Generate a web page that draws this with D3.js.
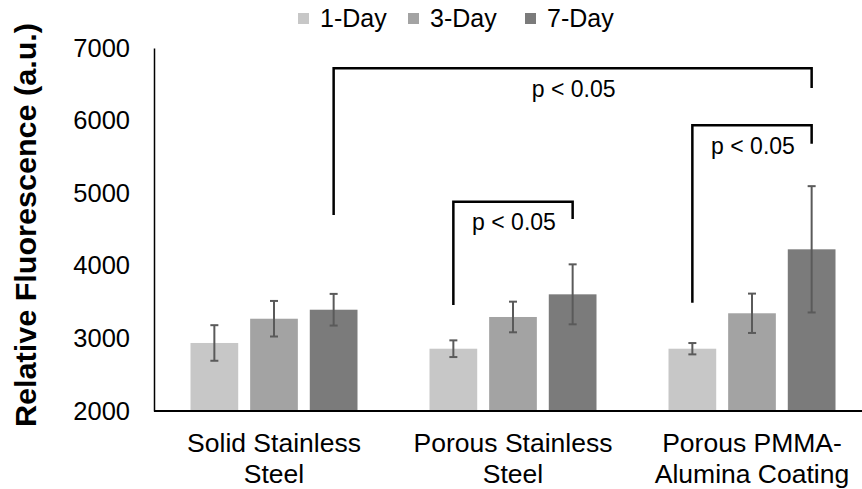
<!DOCTYPE html>
<html>
<head>
<meta charset="utf-8">
<script src="https://cdn.jsdelivr.net/npm/d3@7"></script>
<style>
  html, body { margin: 0; padding: 0; background: #fff; }
  svg { display: block; }
  text { font-family: "Liberation Sans", Arial, sans-serif; fill: #000; }
</style>
</head>
<body>
<script>
// ---- data ----
const categories = ["Solid Stainless Steel", "Porous Stainless Steel", "Porous PMMA-Alumina Coating"];
const categoryLines = [["Solid Stainless", "Steel"], ["Porous Stainless", "Steel"], ["Porous PMMA-", "Alumina Coating"]];
const series = ["1-Day", "3-Day", "7-Day"];
const values1Day = [2937, 2858, 2858];
const values3Day = [3271, 3295, 3346];
const values7Day = [3395, 3607, 4227];
const errors1Day = [245, 115, 78];
const errors3Day = [245, 211, 271];
const errors7Day = [218, 413, 870];
const yTicks = [2000, 3000, 4000, 5000, 6000, 7000];
const colors = ["#c7c7c7", "#a3a3a3", "#7b7b7b"];
// significance brackets: [category, series] endpoints, top level and leg ends (in data units)
const brackets = [
  { from: [0, 2], to: [2, 2], top: 6720, leftEnd: 4700, rightEnd: 6450, label: "p < 0.05" },
  { from: [1, 0], to: [1, 2], top: 4883, leftEnd: 3460, rightEnd: 4645, label: "p < 0.05" },
  { from: [2, 0], to: [2, 2], top: 5935, leftEnd: 3490, rightEnd: 5680, label: "p < 0.05" }
];

const W = 862, H = 489;
const svg = d3.select("body").append("svg").attr("width", W).attr("height", H);

const x0 = d3.scaleBand().domain(categories).range([154.5, 871.5]).padding(0);
const x1 = d3.scaleBand().domain(series).range([36, 203]).paddingInner(0.2).paddingOuter(0);
const y = d3.scaleLinear().domain([2000, 7000]).range([411, 48]);

const valuesBySeries = [values1Day, values3Day, values7Day];
const errorsBySeries = [errors1Day, errors3Day, errors7Day];
const rows = [];
categories.forEach((c, ci) => series.forEach((s, si) => {
  rows.push({ c, s, ci, si, v: valuesBySeries[si][ci], e: errorsBySeries[si][ci] });
}));

const cx = (ci, si) => x0(categories[ci]) + x1(series[si]) + x1.bandwidth() / 2;

// bars
svg.append("g").selectAll("rect").data(rows).join("rect")
  .attr("x", d => x0(d.c) + x1(d.s))
  .attr("width", x1.bandwidth())
  .attr("y", d => y(d.v))
  .attr("height", d => y(2000) - y(d.v))
  .attr("fill", d => colors[d.si]);

// error bars
const eg = svg.append("g").attr("stroke", "#5a5a5a").attr("stroke-width", 2);
rows.forEach(d => {
  const xc = cx(d.ci, d.si);
  eg.append("line").attr("x1", xc).attr("x2", xc).attr("y1", y(d.v + d.e)).attr("y2", y(d.v - d.e));
  [d.v + d.e, d.v - d.e].forEach(val => {
    eg.append("line").attr("x1", xc - 4).attr("x2", xc + 4).attr("y1", y(val)).attr("y2", y(val));
  });
});

// y axis
const yAxis = svg.append("g").attr("transform", "translate(154,0)")
  .call(d3.axisLeft(y).tickValues(yTicks).tickSize(0).tickPadding(24).tickFormat(d3.format("d")));
yAxis.select(".domain").attr("stroke", "#000").attr("stroke-width", 1.5);
yAxis.selectAll(".tick text").attr("font-size", 25.5).attr("font-family", "Liberation Sans, Arial, sans-serif").attr("fill", "#000");

// x axis line
svg.append("line").attr("x1", 154).attr("x2", W).attr("y1", y(2000)).attr("y2", y(2000))
  .attr("stroke", "#000").attr("stroke-width", 2);

// x labels
const xl = svg.append("g");
categories.forEach((c, ci) => {
  const t = xl.append("text").attr("text-anchor", "middle").attr("font-size", 26.5)
    .attr("x", x0(c) + x0.bandwidth() / 2).attr("y", 452);
  categoryLines[ci].forEach((ln, li) => {
    t.append("tspan").attr("x", x0(c) + x0.bandwidth() / 2).attr("dy", li === 0 ? 0 : 31).text(ln);
  });
});

// y title
svg.append("text").attr("transform", "translate(36,225) rotate(-90)")
  .attr("text-anchor", "middle").attr("font-weight", "bold").attr("font-size", 30)
  .attr("textLength", 404).attr("lengthAdjust", "spacingAndGlyphs")
  .text("Relative Fluorescence (a.u.)");

// brackets
const bg = svg.append("g");
brackets.forEach(b => {
  const xa = cx(b.from[0], b.from[1]), xb = cx(b.to[0], b.to[1]);
  bg.append("path")
    .attr("d", `M${xa},${y(b.leftEnd)}V${y(b.top)}H${xb}V${y(b.rightEnd)}`)
    .attr("fill", "none").attr("stroke", "#000").attr("stroke-width", 2.5);
  bg.append("text").attr("text-anchor", "middle").attr("font-size", 23)
    .attr("x", (xa + xb) / 2 + 1).attr("y", y(b.top) + 28.5).text(b.label);
});

// legend
const legendX = [298, 408, 525];
const lg = svg.append("g");
series.forEach((s, i) => {
  lg.append("rect").attr("x", legendX[i]).attr("y", 13).attr("width", 11).attr("height", 11).attr("fill", colors[i]);
  lg.append("text").attr("x", legendX[i] + 22).attr("y", 27).attr("font-size", 25).text(s);
});
</script>
</body>
</html>
